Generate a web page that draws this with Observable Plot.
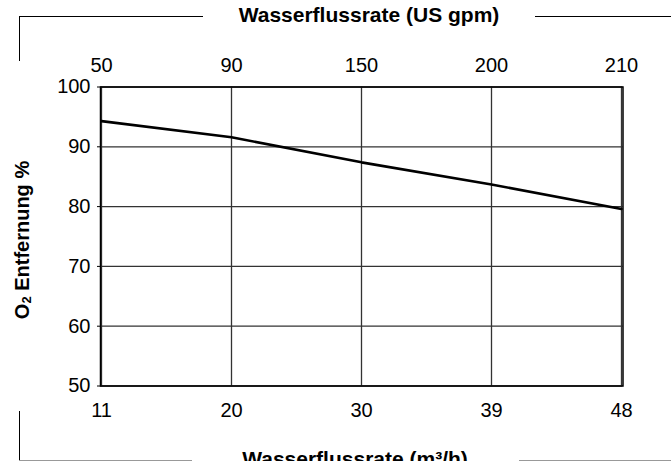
<!DOCTYPE html>
<html><head><meta charset="utf-8">
<script src="https://cdn.jsdelivr.net/npm/d3@7"></script>
<script src="https://cdn.jsdelivr.net/npm/@observablehq/plot@0.6"></script>
<style>
body{margin:0;background:#fff;}
#wrap{position:relative;width:671px;height:461px;overflow:hidden;font-family:Arial,"Liberation Sans",sans-serif;color:#000;}
.ttl{position:absolute;font-weight:bold;font-size:21px;line-height:1;white-space:nowrap;transform:translateX(-50%);}
.ln{position:absolute;}
#ylab{position:absolute;font-weight:bold;font-size:20px;line-height:1;white-space:nowrap;transform:translate(-50%,-50%) rotate(-90deg);left:22px;top:240px;}
#ylab sub{font-size:13px;vertical-align:-2px;}
#wrap svg{position:absolute;left:0;top:0;}
</style></head>
<body><div id="wrap"></div>
<script>
const flowM3h = ["11", "20", "30", "39", "48"];
const flowGpm = ["50", "90", "150", "200", "210"];
const o2Removal = [94.3, 91.6, 87.4, 83.7, 79.6];
const yTicks = [50, 60, 70, 80, 90, 100];
const titleTop = "Wasserflussrate (US gpm)";
const titleBottom = "Wasserflussrate (m³/h)";

const gpmByM3h = new Map(flowM3h.map((d, i) => [d, flowGpm[i]]));
const data = flowM3h.map((d, i) => ({m3h: d, o2: o2Removal[i]}));

const chart = Plot.plot({
  width: 671,
  height: 461,
  marginLeft: 100,
  marginRight: 48.5,
  marginTop: 86.5,
  marginBottom: 75.5,
  style: {fontFamily: "Arial, 'Liberation Sans', sans-serif", fontSize: "20px", background: "#fff", color: "#000"},
  x: {type: "point", domain: flowM3h, padding: 0},
  y: {domain: [50, 100]},
  marks: [
    Plot.gridX(flowM3h, {stroke: "#333", strokeOpacity: 1, strokeWidth: 1.3}),
    Plot.gridY(yTicks, {stroke: "#333", strokeOpacity: 1, strokeWidth: 1.3}),
    Plot.frame({stroke: "#000", strokeWidth: 1.5}),
    Plot.axisX({anchor: "bottom", tickSize: 0, tickPadding: 17, label: null, fontSize: 20}),
    Plot.axisX({anchor: "top", tickSize: 0, tickPadding: 15, label: null, fontSize: 20, tickFormat: d => gpmByM3h.get(d)}),
    Plot.axisY(yTicks, {anchor: "left", tickSize: 3, tickPadding: 7, label: null, fontSize: 20}),
    Plot.line(data, {x: "m3h", y: "o2", stroke: "#000", strokeWidth: 2.6})
  ]
});

const wrap = document.getElementById("wrap");
wrap.appendChild(chart);

function addLine(css) {
  const d = document.createElement("div");
  d.className = "ln";
  Object.assign(d.style, css);
  wrap.appendChild(d);
}
// decorative brackets
addLine({left: "19px", top: "16px", width: "184px", height: "0", borderTop: "1.3px solid #000"});
addLine({left: "19px", top: "16px", width: "0", height: "45px", borderLeft: "1.3px solid #000"});
addLine({left: "535px", top: "16px", width: "136px", height: "0", borderTop: "1.3px solid #000"});
addLine({left: "19px", top: "411px", width: "0", height: "50px", borderLeft: "1.3px solid #000"});
addLine({left: "19px", top: "460px", width: "173px", height: "0", borderTop: "1px solid #999"});
addLine({left: "519px", top: "460px", width: "152px", height: "0", borderTop: "1px solid #999"});

const t1 = document.createElement("div");
t1.className = "ttl"; t1.style.left = "369px"; t1.style.top = "4px"; t1.textContent = titleTop;
wrap.appendChild(t1);
const t2 = document.createElement("div");
t2.className = "ttl"; t2.style.left = "355px"; t2.style.top = "448px"; t2.textContent = titleBottom;
wrap.appendChild(t2);
const yl = document.createElement("div");
yl.id = "ylab"; yl.innerHTML = "O<sub>2</sub> Entfernung %";
wrap.appendChild(yl);
</script>
</body></html>
